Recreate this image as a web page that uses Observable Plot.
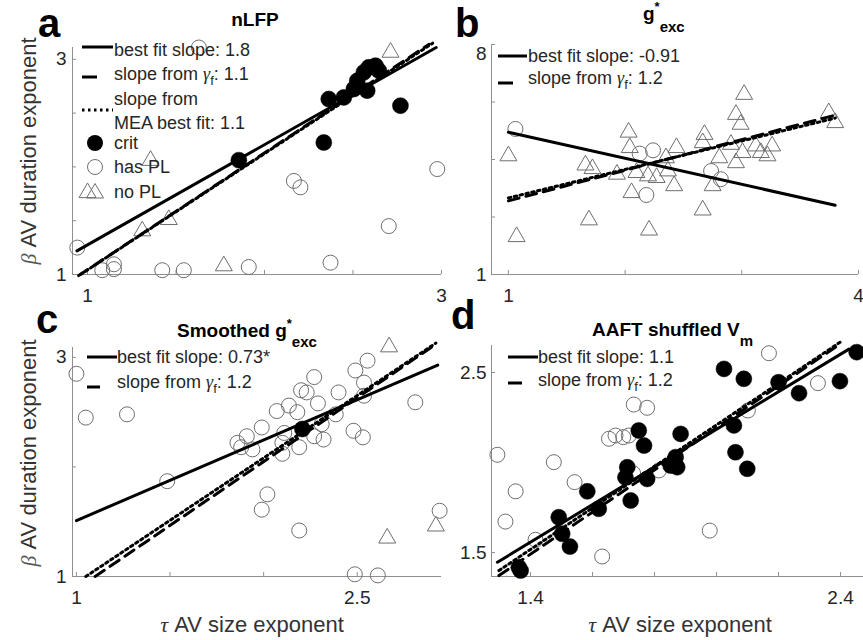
<!DOCTYPE html>
<html><head><meta charset="utf-8">
<script src="https://cdn.jsdelivr.net/npm/d3@7"></script>
<script src="https://cdn.jsdelivr.net/npm/@observablehq/plot@0.6"></script>
<style>
body{margin:0;background:#fff;}
#fig{position:relative;width:863px;height:640px;overflow:hidden;background:#fff;font-family:"Liberation Sans",Arial,sans-serif;color:#262626;}
.pn{position:absolute;}
.t{position:absolute;white-space:nowrap;}
.g{font-family:"Liberation Serif","Times New Roman",serif;font-style:italic;}
.sub{font-size:13px;position:relative;top:5px;}
</style></head><body><div id="fig"></div>
<script>
// ---------- Panel a (nLFP) ----------
const aCritX = [1.855, 2.335, 2.363, 2.448, 2.505, 2.524, 2.561, 2.589, 2.627, 2.646, 2.58, 2.768];
const aCritY = [2.063, 2.227, 2.631, 2.646, 2.724, 2.80, 2.879, 2.926, 2.941, 2.895, 2.709, 2.569];
const aPLX = [0.942, 1.083, 1.149, 1.149, 1.422, 1.544, 1.911, 1.629, 2.166, 2.203, 2.373, 2.702, 2.976];
const aPLY = [1.25, 1.04, 1.05, 1.095, 1.04, 1.04, 1.07, 3.11, 1.87, 1.81, 1.11, 1.45, 1.98];
const aNoPLX = [2.712, 1.356, 1.459, 1.309, 1.77, 1.0];
const aNoPLY = [3.065, 2.06, 1.51, 1.405, 1.08, 1.76];
const aFitX = [0.94, 2.97], aFitY = [1.22, 3.11];
const aGammaX = [0.95, 2.93], aGammaY = [0.99, 3.14];
const aMeaX = [0.96, 2.95], aMeaY = [1.0, 3.15];
const aXTicks = [1, 1.5, 2, 2.5, 3], aXLabels = [1, 3];
const aYTicks = [1, 1.5, 2, 2.5, 3], aYLabels = [1, 3];

// ---------- Panel b (g*exc) ----------
const bCritX = [], bCritY = [];
const bPLX = [1.06, 2.125, 2.239, 2.182, 2.737, 2.82];
const bPLY = [5.43, 4.68, 4.78, 3.42, 4.15, 3.9];
const bNoPLX = [1.0, 1.07, 1.69, 1.66, 1.72, 1.93, 2.03, 2.04, 2.055, 2.097, 2.196, 2.27, 2.205, 2.35, 2.367, 2.44, 2.42, 2.665, 2.68, 2.665, 2.75, 2.807, 2.907, 2.95, 3.006, 2.95, 2.99, 3.02, 3.12, 3.163, 3.22, 3.26, 3.745, 3.80];
const bNoPLY = [4.61, 2.15, 2.66, 4.33, 4.22, 4.05, 5.33, 4.86, 3.49, 4.1, 4.0, 3.95, 2.35, 4.55, 4.15, 4.86, 3.7, 2.96, 5.26, 5.01, 3.7, 4.55, 4.96, 4.40, 4.71, 5.87, 5.57, 6.48, 4.91, 4.71, 4.61, 4.91, 5.92, 5.62];
const bFitX = [1.0, 3.80], bFitY = [5.33, 3.11];
const bGammaX = [1.0, 3.8], bGammaY = [3.24, 5.85];
const bMeaX = [1.0, 3.8], bMeaY = [3.33, 5.76];
const bXTicks = [1, 2, 3, 4], bXLabels = [1, 4];
const bYTicks = [1, 2.75, 4.5, 6.25, 8], bYLabels = [1, 8];

// ---------- Panel c (Smoothed g*exc) ----------
const cCritX = [2.207], cCritY = [2.346];
const cPLX = [1.0, 1.05, 1.27, 1.485, 2.02, 1.99, 2.19, 2.487, 2.61, 2.81, 2.94, 2.49, 2.555, 2.536, 2.536, 2.48, 2.53, 2.40, 2.385, 2.27, 2.20, 2.23, 2.29, 2.31, 2.27, 2.32, 2.19, 2.135, 2.18, 2.07, 2.11, 2.10, 2.10, 1.99, 1.91, 1.86, 1.88, 1.94];
const cPLY = [2.85, 2.45, 2.48, 1.87, 1.75, 1.61, 1.42, 1.02, 1.01, 2.59, 1.60, 2.88, 2.97, 2.77, 2.65, 2.33, 2.27, 2.68, 2.48, 2.82, 2.70, 2.68, 2.58, 2.39, 2.28, 2.25, 2.18, 2.56, 2.50, 2.51, 2.31, 2.22, 2.12, 2.36, 2.28, 2.22, 2.18, 2.16];
const cNoPLX = [2.67, 2.66, 2.92];
const cNoPLY = [3.095, 1.35, 1.46];
const cFitX = [1.0, 2.93], cFitY = [1.51, 2.93];
const cGammaX = [1.10, 2.92], cGammaY = [1.0, 3.12];
const cMeaX = [1.05, 2.92], cMeaY = [1.0, 3.13];
const cXTicks = [1, 1.5, 2, 2.5], cXLabels = [1, 2.5];
const cYTicks = [1, 2, 3], cYLabels = [1, 3];

// ---------- Panel d (AAFT shuffled Vm) ----------
const dCritX = [1.368, 1.362, 1.491, 1.502, 1.527, 1.583, 1.62, 1.723, 1.712, 1.706, 1.776, 1.749, 1.766, 1.868, 1.873, 1.852, 1.884, 2.024, 2.056, 2.061, 2.099, 2.088, 2.20, 2.266, 2.398, 2.452];
const dCritY = [1.40, 1.418, 1.696, 1.604, 1.533, 1.84, 1.743, 1.789, 1.974, 1.918, 1.909, 2.178, 2.094, 2.03, 1.974, 1.983, 2.159, 2.52, 2.206, 2.057, 1.965, 2.465, 2.446, 2.385, 2.452, 2.613];
const dPLX = [1.293, 1.352, 1.319, 1.416, 1.475, 1.542, 1.631, 1.653, 1.674, 1.699, 1.717, 1.733, 1.776, 1.731, 1.814, 1.978, 2.101, 2.169, 2.327];
const dPLY = [2.043, 1.84, 1.672, 1.571, 2.002, 1.891, 1.478, 2.132, 2.15, 2.141, 2.15, 2.322, 2.304, 1.94, 1.956, 1.622, 2.289, 2.607, 2.441];
const dNoPLX = [], dNoPLY = [];
const dFitX = [1.293, 2.427], dFitY = [1.446, 2.63];
const dGammaX = [1.298, 2.40], dGammaY = [1.372, 2.66];
const dMeaX = [1.298, 2.40], dMeaY = [1.40, 2.67];
const dXTicks = [1.4, 1.6, 1.8, 2.0, 2.2, 2.4], dXLabels = [1.4, 2.4];
const dYTicks = [1.5, 2.5], dYLabels = [1.5, 2.5];

const AXIS = "#8f8f8f", MK = "#6e6e6e", TXT = "#262626";
const FONT = '"Liberation Sans", Arial, sans-serif';
const pts = (xs, ys) => xs.map((x, i) => ({x, y: ys[i]}));
const fmt = d => String(d);

function makePanel(o) {
  const fw = o.width - o.mL - o.mR, fh = o.height - o.mT - o.mB;
  const yl = o.yLabels;
  return Plot.plot({
    width: o.width, height: o.height,
    marginLeft: o.mL, marginRight: o.mR, marginTop: o.mT, marginBottom: o.mB,
    x: {domain: o.xDomain}, y: {domain: o.yDomain},
    style: {fontFamily: FONT, fontSize: "19px", color: TXT, background: "transparent", overflow: "visible"},
    marks: [
      Plot.ruleY([o.yDomain[0]], {stroke: AXIS, strokeWidth: 1}),
      Plot.ruleX([o.xDomain[0]], {stroke: AXIS, strokeWidth: 1}),
      Plot.tickX(o.xTicks, {x: d => d, insetTop: fh - 4, stroke: AXIS}),
      Plot.tickY(o.yTicks, {y: d => d, insetRight: fw - 4, stroke: AXIS}),
      Plot.axisX(o.xLabels, {tickSize: 0, tickPadding: 14, label: null, tickFormat: fmt}),
      Plot.axisY(yl.slice(0, -1), {tickSize: 0, tickPadding: o.yPad, label: null, tickFormat: fmt}),
      Plot.axisY(yl.slice(-1), {tickSize: 0, tickPadding: o.yPad, label: null, tickFormat: fmt, dy: o.topDy || 0}),
      Plot.dot(o.pl, {x: "x", y: "y", r: 7.5, fill: "none", stroke: MK, strokeWidth: 1}),
      Plot.dot(o.nopl, {x: "x", y: "y", symbol: "triangle", r: 6.3, fill: "none", stroke: MK, strokeWidth: 1}),
      Plot.dot(o.crit, {x: "x", y: "y", r: 8, fill: "black", stroke: "black", strokeWidth: 0.5}),
      Plot.line(o.mea, {x: "x", y: "y", stroke: "black", strokeWidth: 3, strokeDasharray: "2.5 3.5"}),
      Plot.line(o.gamma, {x: "x", y: "y", stroke: "black", strokeWidth: 3, strokeDasharray: "11 7"}),
      Plot.line(o.fit, {x: "x", y: "y", stroke: "black", strokeWidth: 3})
    ]
  });
}

const fig = document.getElementById("fig");
function place(svg, left, top) {
  svg.classList.add("pn");
  svg.style.left = left + "px"; svg.style.top = top + "px";
  fig.appendChild(svg);
}

place(makePanel({width: 450, height: 300, mL: 72, mR: 9, mT: 47, mB: 26, yPad: 6,
  xDomain: [0.915, 3.0], yDomain: [1, 3.11],
  xTicks: aXTicks, yTicks: aYTicks, xLabels: aXLabels, yLabels: aYLabels,
  crit: pts(aCritX, aCritY), pl: pts(aPLX, aPLY), nopl: pts(aNoPLX, aNoPLY),
  fit: pts(aFitX, aFitY), gamma: pts(aGammaX, aGammaY), mea: pts(aMeaX, aMeaY)}), 0, 0);

place(makePanel({width: 413, height: 300, mL: 41, mR: 5, mT: 44, mB: 26, yPad: 5, topDy: 9,
  xDomain: [0.855, 4.0], yDomain: [1, 8],
  xTicks: bXTicks, yTicks: bYTicks, xLabels: bXLabels, yLabels: bYLabels,
  crit: pts(bCritX, bCritY), pl: pts(bPLX, bPLY), nopl: pts(bNoPLX, bNoPLY),
  fit: pts(bFitX, bFitY), gamma: pts(bGammaX, bGammaY), mea: pts(bMeaX, bMeaY)}), 450, 0);

place(makePanel({width: 450, height: 340, mL: 72, mR: 9, mT: 47, mB: 64, yPad: 6,
  xDomain: [0.979, 2.95], yDomain: [1, 3.09],
  xTicks: cXTicks, yTicks: cYTicks, xLabels: cXLabels, yLabels: cYLabels,
  crit: pts(cCritX, cCritY), pl: pts(cPLX, cPLY), nopl: pts(cNoPLX, cNoPLY),
  fit: pts(cFitX, cFitY), gamma: pts(cGammaX, cGammaY), mea: pts(cMeaX, cMeaY)}), 0, 300);

place(makePanel({width: 413, height: 340, mL: 41, mR: 0, mT: 45, mB: 64, yPad: 5,
  xDomain: [1.274, 2.474], yDomain: [1.367, 2.65],
  xTicks: dXTicks, yTicks: dYTicks, xLabels: dXLabels, yLabels: dYLabels,
  crit: pts(dCritX, dCritY), pl: pts(dPLX, dPLY), nopl: pts(dNoPLX, dNoPLY),
  fit: pts(dFitX, dFitY), gamma: pts(dGammaX, dGammaY), mea: pts(dMeaX, dMeaY)}), 450, 300);

// ---------- text overlays ----------
function txt(html, left, top, style) {
  const d = document.createElement("div");
  d.className = "t";
  d.innerHTML = html;
  d.style.cssText += `left:${left}px;top:${top}px;` + (style || "");
  fig.appendChild(d);
  return d;
}
const LEG = "font-size:18px;line-height:18px;";
const gam = `<span class="g">γ</span><span class="sub">f</span>`;

// panel letters
const PL = "font-weight:bold;font-size:40px;line-height:36px;color:#000;";
txt("a", 38, 5, PL); txt("b", 455, 4.5, PL); txt("c", 36, 301, PL); txt("d", 451, 296.5, PL);

// titles
const TT = "font-weight:bold;font-size:19px;line-height:19px;color:#000;";
txt("nLFP", 255, 10, TT + "transform:translateX(-50%);");
txt(`g<span style="font-size:13px;position:relative;top:-9px;">*</span><span style="font-size:15px;position:relative;top:12px;">exc</span>`, 643, 4, TT);
txt(`Smoothed g<span style="font-size:13px;position:relative;top:-9px;">*</span><span style="font-size:15px;position:relative;top:10px;">exc</span>`, 177, 321, TT);
txt(`AAFT shuffled V<span style="font-size:15px;position:relative;top:10px;">m</span>`, 592, 320, TT);

// axis labels
const AL = "font-size:22px;line-height:22px;color:#333;";
const yl = `<span class="g" style="color:#555;">β</span> AV duration exponent`;
txt(yl, 29, 151, AL + "transform:translate(-50%,-50%) rotate(-90deg);");
txt(yl, 29, 453, AL + "transform:translate(-50%,-50%) rotate(-90deg);");
const xl = `<span class="g">τ</span> AV size exponent`;
txt(xl, 252, 614, AL + "transform:translateX(-50%);");
txt(xl, 680, 614, AL + "transform:translateX(-50%);");

// legend samples (inline svg)
const ov = document.createElementNS("http://www.w3.org/2000/svg", "svg");
ov.setAttribute("width", 863); ov.setAttribute("height", 640);
ov.setAttribute("class", "pn"); ov.style.left = "0px"; ov.style.top = "0px"; ov.style.pointerEvents = "none";
let s = "";
const ln = (x1, x2, y, dash) => s += `<line x1="${x1}" x2="${x2}" y1="${y}" y2="${y}" stroke="black" stroke-width="3" ${dash ? `stroke-dasharray="${dash}"` : ""}/>`;
ln(82, 113, 47); ln(82, 97, 77); ln(82, 113, 110, "2.5 3.5");
s += `<circle cx="95" cy="143" r="8" fill="black"/>`;
s += `<circle cx="95" cy="167" r="7.5" fill="none" stroke="${MK}"/>`;
s += `<path d="M95,183.5L103.5,198L86.5,198Z" fill="none" stroke="${MK}"/>`;
ln(498, 527, 56); ln(498, 513, 83);
ln(87, 117, 357); ln(87, 100, 387);
ln(508, 538, 357); ln(508, 522, 383);
ov.innerHTML = s;
fig.appendChild(ov);

// legend texts
txt("best fit slope: 1.8", 114, 41, LEG);
txt(`slope from ${gam}: 1.1`, 114, 65, LEG);
txt("slope from", 114, 90, LEG);
txt("MEA best fit: 1.1", 114, 114, LEG);
txt("crit", 114, 134, LEG);
txt("has PL", 114, 158, LEG);
txt("no PL", 114, 183, LEG);
txt("best fit slope: -0.91", 528, 47, LEG);
txt(`slope from ${gam}: 1.2`, 528, 69, LEG);
txt("best fit slope: 0.73*", 117, 348, LEG);
txt(`slope from ${gam}: 1.2`, 117, 373, LEG);
txt("best fit slope: 1.1", 538, 348, LEG);
txt(`slope from ${gam}: 1.2`, 538, 371, LEG);
</script></body></html>
